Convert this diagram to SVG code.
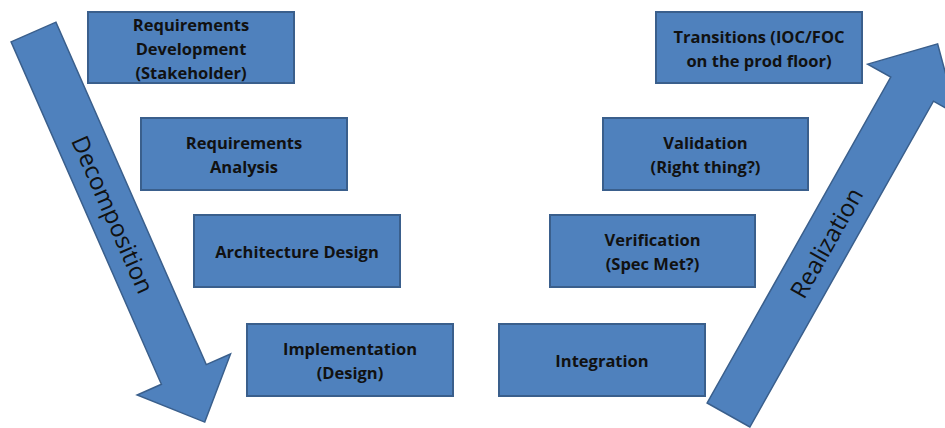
<svg xmlns="http://www.w3.org/2000/svg" width="945" height="428" viewBox="0 0 945 428">
  <style>
    .box { fill: #4F81BD; stroke: #3A5F8C; stroke-width: 2; }
    .label { font-family: "Open Sans", "Liberation Sans", sans-serif; font-weight: bold; font-size: 16.5px; fill: #111111; text-anchor: middle; }
    .flow { fill: #4F81BD; stroke: #3A5F8C; stroke-width: 1.5; stroke-linejoin: miter; }
    .flow-label { font-family: "Open Sans", "Liberation Sans", sans-serif; font-size: 24px; fill: #111111; text-anchor: middle; dominant-baseline: central; }
  </style>
  <defs>
    <!-- block arrow pointing down, origin at the middle of its tail -->
    <polygon id="block-arrow-down" points="-24.5,0 24.5,0 24.5,374 51,374 0,426 -51,374 -24.5,374"/>
  </defs>
  <rect width="945" height="428" fill="#ffffff"/>

  <!-- big flow arrows -->
  <g id="connectors">
    <g id="decomposition-arrow" transform="translate(33.5,32) rotate(-23.7)">
      <use href="#block-arrow-down" class="flow"/>
      <text class="flow-label" transform="translate(0,199) rotate(90)">Decomposition</text>
    </g>
    <g id="realization-arrow" transform="translate(728.5,415) rotate(29.4)">
      <use href="#block-arrow-down" class="flow" transform="scale(1,-1)"/>
      <text class="flow-label" transform="translate(0,-198) rotate(-90)">Realization</text>
    </g>
  </g>

  <!-- left leg of the V -->
  <g id="req-development">
    <rect class="box" x="88" y="12" width="206" height="71"/>
    <text class="label" x="191" y="30.5">Requirements</text>
    <text class="label" x="191" y="54.5">Development</text>
    <text class="label" x="191" y="78.5">(Stakeholder)</text>
  </g>
  <g id="req-analysis">
    <rect class="box" x="141" y="118" width="206" height="72"/>
    <text class="label" x="244" y="148.5">Requirements</text>
    <text class="label" x="244" y="172.5">Analysis</text>
  </g>
  <g id="architecture-design">
    <rect class="box" x="194" y="215" width="206" height="72"/>
    <text class="label" x="297" y="257.5">Architecture Design</text>
  </g>
  <g id="implementation">
    <rect class="box" x="247" y="324" width="206" height="72"/>
    <text class="label" x="350" y="354.5">Implementation</text>
    <text class="label" x="350" y="378.5">(Design)</text>
  </g>

  <!-- right leg of the V -->
  <g id="integration">
    <rect class="box" x="499" y="324" width="206" height="72"/>
    <text class="label" x="602" y="366.5">Integration</text>
  </g>
  <g id="verification">
    <rect class="box" x="550" y="215" width="205" height="72"/>
    <text class="label" x="652.5" y="245.5">Verification</text>
    <text class="label" x="652.5" y="269.5">(Spec Met?)</text>
  </g>
  <g id="validation">
    <rect class="box" x="603" y="118" width="205" height="72"/>
    <text class="label" x="705.5" y="148.5">Validation</text>
    <text class="label" x="705.5" y="172.5">(Right thing?)</text>
  </g>
  <g id="transitions">
    <rect class="box" x="656" y="12" width="206" height="71"/>
    <text class="label" x="759" y="42.5">Transitions (IOC/FOC</text>
    <text class="label" x="759" y="66.5">on the prod floor)</text>
  </g>
</svg>
